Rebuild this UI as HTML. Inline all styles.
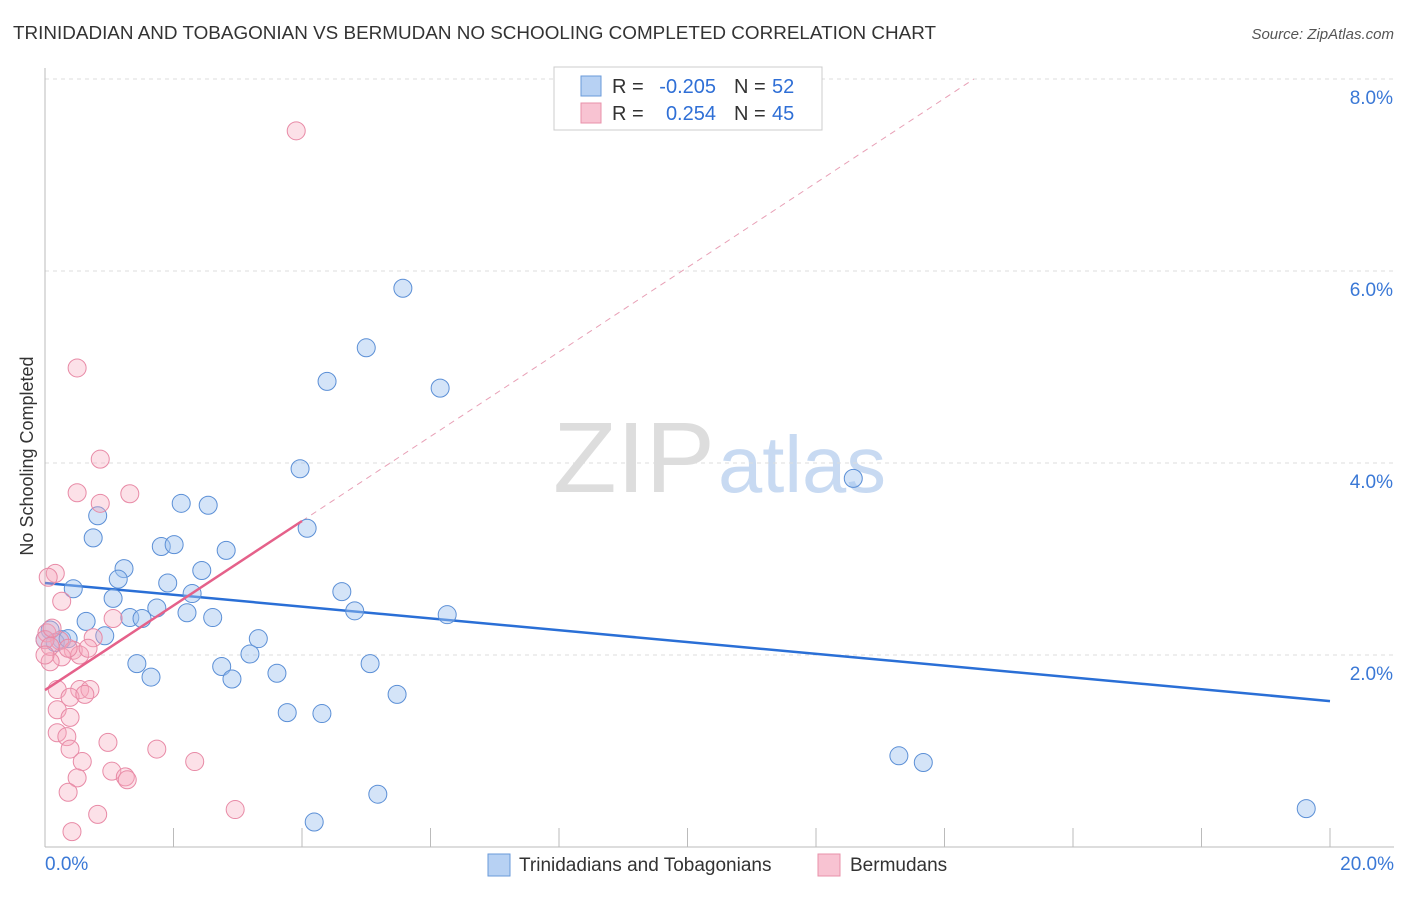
<!DOCTYPE html>
<html><head><meta charset="utf-8"><style>
body{margin:0;background:#fff;font-family:"Liberation Sans",sans-serif}
svg text{font-family:"Liberation Sans",sans-serif}
</style></head><body>
<svg id="c" width="1406" height="892" viewBox="0 0 1406 892" xmlns="http://www.w3.org/2000/svg">
<text x="13" y="39" font-size="18" fill="#333" textLength="923" lengthAdjust="spacingAndGlyphs">TRINIDADIAN AND TOBAGONIAN VS BERMUDAN NO SCHOOLING COMPLETED CORRELATION CHART</text>
<text x="1394" y="39" font-size="15" fill="#555" text-anchor="end" font-style="italic">Source: ZipAtlas.com</text>
<text x="553" y="492" font-size="100" fill="#ddd" font-family="Liberation Serif" textLength="162" lengthAdjust="spacingAndGlyphs">ZIP</text>
<text x="718" y="492" font-size="80" fill="#c8daf2" textLength="168" lengthAdjust="spacingAndGlyphs">atlas</text>
<g id="grid"></g>
<g id="axes"></g>
<g id="lines"></g>
<g id="pts"></g>
<text transform="translate(33,456) rotate(-90)" font-size="18" fill="#333" text-anchor="middle">No Schooling Completed</text>
<g>
<rect x="554" y="67" width="268" height="63" fill="#fff" stroke="#ccc"/>
<rect x="581" y="76" width="20" height="20" fill="#b7d1f3" stroke="#6a9ad9"/>
<rect x="581" y="103" width="20" height="20" fill="#f8c3d2" stroke="#e890aa"/>
<text x="612" y="93" font-size="20" fill="#333">R =</text>
<text x="716" y="93" font-size="20" fill="#2f6fd6" text-anchor="end">-0.205</text>
<text x="734" y="93" font-size="20" fill="#333">N =</text>
<text x="772" y="93" font-size="20" fill="#2f6fd6">52</text>
<text x="612" y="120" font-size="20" fill="#333">R =</text>
<text x="716" y="120" font-size="20" fill="#2f6fd6" text-anchor="end">0.254</text>
<text x="734" y="120" font-size="20" fill="#333">N =</text>
<text x="772" y="120" font-size="20" fill="#2f6fd6">45</text>
</g>
<g>
<rect x="488" y="854" width="22" height="22" fill="#b7d1f3" stroke="#6a9ad9"/>
<text x="519" y="871" font-size="19" fill="#333">Trinidadians and Tobagonians</text>
<rect x="818" y="854" width="22" height="22" fill="#f8c3d2" stroke="#e890aa"/>
<text x="850" y="871" font-size="19" fill="#333">Bermudans</text>
</g>
</svg>
<script>
const blueX=[5.57,5.00,4.39,6.15,12.58,3.97,2.12,2.54,0.82,4.08,0.75,1.81,2.01,2.82,1.23,1.14,2.44,1.91,0.44,4.62,1.06,2.29,1.74,2.21,4.82,6.26,0.64,1.32,1.51,2.61,0.08,0.26,0.16,0.36,0.93,3.32,3.19,1.43,2.75,5.06,3.61,1.65,2.91,5.48,3.77,4.31,13.29,13.67,5.18,4.19,19.63,0.0];
const blueY=[5.82,5.20,4.85,4.78,3.84,3.94,3.58,3.56,3.45,3.32,3.22,3.13,3.15,3.09,2.90,2.79,2.88,2.75,2.69,2.66,2.59,2.64,2.49,2.44,2.46,2.42,2.35,2.39,2.38,2.39,2.26,2.16,2.13,2.17,2.20,2.17,2.01,1.91,1.88,1.91,1.81,1.77,1.75,1.59,1.40,1.39,0.95,0.88,0.55,0.26,0.40,2.16];
const pinkX=[3.91,0.50,0.86,0.50,1.32,0.86,0.16,0.05,0.26,1.06,0.75,0.03,0.23,0.44,0.54,0.26,0.08,0.19,0.54,0.70,0.39,0.62,0.19,0.39,0.19,0.34,0.98,0.39,1.74,0.58,2.33,1.04,1.25,1.28,0.50,0.36,0.82,2.96,0.42,0.0,0.08,0.0,0.11,0.36,0.67];
const pinkY=[7.46,4.99,4.04,3.69,3.68,3.58,2.85,2.81,2.56,2.38,2.18,2.23,2.15,2.05,2.00,1.98,1.93,1.64,1.64,1.64,1.56,1.59,1.43,1.35,1.19,1.15,1.09,1.02,1.02,0.89,0.89,0.79,0.73,0.70,0.72,0.57,0.34,0.39,0.16,2.16,2.09,2.00,2.28,2.07,2.07];
const yTicks=[2,4,6,8];
const yTickLabels=["2.0%","4.0%","6.0%","8.0%"];
const blueTrend=[2.75,1.52];
const pinkTrend=[1.635,3.396];
const pinkTrendX=[0,4];
const X=v=>45+v*64.25, Y=v=>847-v*96;
const NS="http://www.w3.org/2000/svg";
function mk(p,t,a){const e=document.createElementNS(NS,t);for(const k in a)e.setAttribute(k,a[k]);document.getElementById(p).appendChild(e);return e;}
yTicks.forEach((t,i)=>{
 const l=mk('grid','line',{x1:45,x2:1394,y1:Y(t),y2:Y(t),stroke:'#ddd','stroke-dasharray':'4,4'});
 
 
 const tx=mk('grid','text',{x:1393,y:Y(t)+25,'font-size':19,fill:'#3a78d6','text-anchor':'end'});
 tx.textContent=yTickLabels[i];
 
 
});
let a=mk('axes','line',{x1:45,x2:45,y1:68,y2:847,stroke:'#bbb'});


a=mk('axes','line',{x1:45,x2:1394,y1:847,y2:847,stroke:'#bbb'});


for(let i=0;i<=10;i++){const t=mk('axes','line',{x1:X(i*2),x2:X(i*2),y1:828,y2:847,stroke:'#bbb'});
 
 }
let t0=mk('axes','text',{x:45,y:870,'font-size':19,fill:'#3a78d6'});t0.textContent='0.0%';


let t1=mk('axes','text',{x:1394,y:870,'font-size':19,fill:'#3a78d6','text-anchor':'end'});t1.textContent='20.0%';


const slope=(pinkTrend[1]-pinkTrend[0])/(pinkTrendX[1]-pinkTrendX[0]);
const xEnd=(8-pinkTrend[0])/slope;
let d=mk('lines','line',{x1:X(pinkTrendX[1]),y1:Y(pinkTrend[1]),x2:X(xEnd),y2:Y(8),stroke:'#e8a0b6','stroke-dasharray':'6,5','stroke-width':1});


let b=mk('lines','line',{x1:X(0),y1:Y(blueTrend[0]),x2:X(20),y2:Y(blueTrend[1]),stroke:'#2a6fd6','stroke-width':2.5});


blueX.forEach((x,i)=>{const c=mk('pts','circle',{cx:X(x),cy:Y(blueY[i]),r:9,fill:'rgba(160,196,240,0.45)',stroke:'#5b8fd6','stroke-width':1});
 
 });
pinkX.forEach((x,i)=>{const c=mk('pts','circle',{cx:X(x),cy:Y(pinkY[i]),r:9,fill:'rgba(245,170,190,0.35)',stroke:'#e88aa6','stroke-width':1});
 
 });
let p=mk('pts','line',{x1:X(pinkTrendX[0]),y1:Y(pinkTrend[0]),x2:X(pinkTrendX[1]),y2:Y(pinkTrend[1]),stroke:'#e5618a','stroke-width':2.5});


</script>
</body></html>
